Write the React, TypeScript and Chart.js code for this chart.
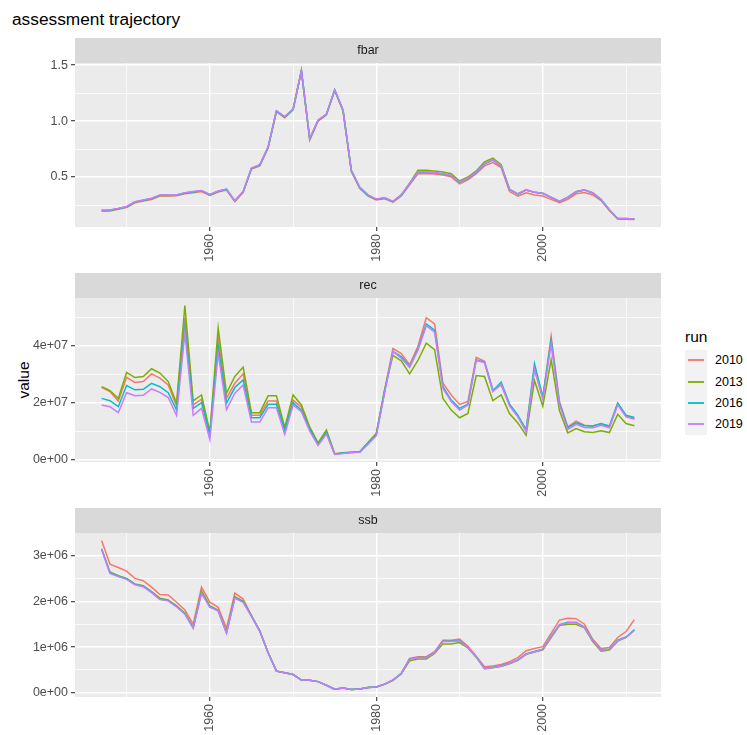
import React, { useEffect, useRef } from "react";
import { Chart, registerables } from "chart.js";

Chart.register(...registerables);

const FONT = '"Liberation Sans", Arial, Helvetica, sans-serif';

const years = [
  1947, 1948, 1949, 1950, 1951, 1952, 1953, 1954, 1955, 1956,
  1957, 1958, 1959, 1960, 1961, 1962, 1963, 1964, 1965, 1966,
  1967, 1968, 1969, 1970, 1971, 1972, 1973, 1974, 1975, 1976,
  1977, 1978, 1979, 1980, 1981, 1982, 1983, 1984, 1985, 1986,
  1987, 1988, 1989, 1990, 1991, 1992, 1993, 1994, 1995, 1996,
  1997, 1998, 1999, 2000, 2001, 2002, 2003, 2004, 2005, 2006,
  2007, 2008, 2009, 2010, 2011,
];

const runs = ["2010", "2013", "2016", "2019"];
const runColors = ["#F8766D", "#7CAE00", "#00BFC4", "#C77CFF"];

const xMajorTicks = [1960, 1980, 2000];
const xMinorTicks = [1950, 1970, 1990, 2010];

// ---- fbar ----
const fbar2010 = [
  0.195, 0.196, 0.212, 0.228, 0.27, 0.285, 0.3, 0.33, 0.33, 0.332,
  0.35, 0.36, 0.37, 0.335, 0.365, 0.383, 0.28, 0.362, 0.572, 0.6,
  0.76, 1.085, 1.03, 1.1, 1.45, 0.83, 1.0, 1.055, 1.275, 1.09,
  0.55, 0.4, 0.33, 0.295, 0.305, 0.275, 0.33, 0.43, 0.53, 0.532,
  0.528, 0.518, 0.502, 0.44, 0.475, 0.53, 0.6, 0.63, 0.585, 0.37,
  0.33, 0.36, 0.34, 0.33, 0.3, 0.27, 0.3, 0.35, 0.362, 0.34,
  0.29, 0.2, 0.125, 0.122, 0.12,
];
const fbar2013 = [
  0.2, 0.2, 0.216, 0.233, 0.276, 0.29, 0.305, 0.336, 0.336, 0.337,
  0.356, 0.366, 0.376, 0.34, 0.37, 0.39, 0.285, 0.366, 0.577, 0.606,
  0.765, 1.09, 1.035, 1.105, 1.45, 0.84, 1.005, 1.06, 1.278, 1.095,
  0.556, 0.405, 0.337, 0.3, 0.315, 0.28, 0.34, 0.445, 0.56, 0.56,
  0.555, 0.545, 0.53, 0.465, 0.5, 0.555, 0.635, 0.67, 0.61, 0.39,
  0.35, 0.385, 0.365, 0.355, 0.318, 0.282, 0.318, 0.368, 0.385, 0.358,
  0.298, 0.205, 0.128, 0.128, 0.124,
];
const fbar2016 = [
  0.202, 0.203, 0.218, 0.235, 0.278, 0.293, 0.308, 0.338, 0.338, 0.339,
  0.358, 0.368, 0.378, 0.343, 0.373, 0.391, 0.287, 0.368, 0.579, 0.608,
  0.768, 1.09, 1.038, 1.106, 1.452, 0.842, 1.008, 1.061, 1.279, 1.098,
  0.558, 0.408, 0.338, 0.301, 0.313, 0.28, 0.338, 0.438, 0.542, 0.543,
  0.538, 0.528, 0.512, 0.452, 0.487, 0.542, 0.617, 0.652, 0.597, 0.388,
  0.348, 0.383, 0.363, 0.353, 0.318, 0.281, 0.318, 0.368, 0.385, 0.358,
  0.298, 0.205, 0.129, 0.129, 0.124,
];
const fbar2019 = [
  0.204, 0.205, 0.22, 0.237, 0.28, 0.295, 0.31, 0.34, 0.34, 0.34,
  0.36, 0.37, 0.38, 0.345, 0.375, 0.393, 0.288, 0.37, 0.58, 0.61,
  0.77, 1.093, 1.04, 1.108, 1.453, 0.844, 1.01, 1.063, 1.28, 1.1,
  0.56, 0.41, 0.34, 0.303, 0.315, 0.282, 0.34, 0.44, 0.545, 0.545,
  0.54, 0.53, 0.515, 0.455, 0.49, 0.545, 0.62, 0.655, 0.6, 0.39,
  0.35, 0.385, 0.365, 0.355, 0.32, 0.283, 0.32, 0.37, 0.387, 0.36,
  0.3, 0.207, 0.13, 0.13, 0.125,
];

// ---- rec (millions) ----
const recUnit = 1e6;
const rec2010 = [
  25.4, 23.9, 20.6, 28.9, 27.1, 27.4, 30.1, 28.6, 26.2, 18.8,
  49.8, 19.2, 21.2, 9.2, 42.7, 21.5, 26.8, 30.1, 15.6, 15.6,
  20.6, 20.6, 10.6, 20.9, 18.4, 10.9, 5.6, 9.8, 2.0, 2.35,
  2.6, 2.7, 5.9, 9.2, 24.5, 39.0, 37.2, 33.3, 39.8, 49.8,
  47.6, 26.8, 22.7, 19.4, 20.4, 35.9, 34.5, 24.5, 26.2, 19.4,
  15.3, 10.6, 31.8, 21.5, 43.3, 20.4, 11.5, 13.5, 12.1, 11.8,
  12.5, 11.5, 19.8, 15.3, 14.5,
];
const rec2013 = [
  25.6, 24.2, 21.5, 30.6, 28.8, 29.2, 31.9, 30.4, 27.4, 19.8,
  54.1, 20.6, 22.7, 9.8, 46.2, 23.3, 29.2, 32.5, 16.5, 16.5,
  22.4, 22.4, 11.3, 22.7, 19.2, 11.5, 5.9, 10.4, 2.1, 2.4,
  2.6, 2.8, 6.0, 9.2, 24.5, 36.6, 34.7, 30.1, 34.8, 40.9,
  38.6, 21.5, 17.4, 14.7, 16.2, 29.5, 29.2, 20.7, 22.7, 16.2,
  12.9, 8.6, 27.8, 18.8, 35.1, 17.2, 9.4, 10.9, 9.8, 9.5,
  10.1, 9.5, 15.9, 12.7, 11.9,
];
const rec2016 = [
  21.5, 20.7, 18.6, 26.0, 24.5, 24.7, 26.8, 25.6, 23.5, 17.4,
  46.5, 18.0, 20.0, 8.6, 39.8, 19.8, 25.3, 28.0, 14.7, 14.7,
  19.4, 19.4, 10.4, 20.0, 17.4, 10.6, 5.3, 9.5, 1.9, 2.3,
  2.55, 2.7, 5.6, 8.8, 24.0, 38.0, 36.2, 32.7, 38.8, 47.6,
  45.4, 25.6, 20.9, 18.0, 19.5, 35.0, 34.2, 24.2, 27.2, 19.5,
  15.6, 10.4, 33.6, 22.1, 41.9, 19.8, 11.2, 12.9, 11.9, 11.8,
  12.7, 11.8, 19.8, 15.6, 14.8,
];
const rec2019 = [
  19.2, 18.6, 16.5, 23.5, 22.4, 22.6, 24.8, 23.6, 21.8, 15.5,
  44.5, 15.6, 18.0, 7.1, 37.4, 17.6, 23.3, 26.2, 13.2, 13.2,
  18.2, 18.2, 8.9, 19.2, 16.8, 10.0, 5.0, 9.0, 1.8, 2.2,
  2.5, 2.6, 5.4, 8.4, 23.5, 38.0, 35.6, 32.4, 38.4, 47.0,
  44.7, 25.0, 20.4, 17.4, 19.2, 34.8, 34.1, 23.9, 26.5, 18.9,
  15.0, 9.8, 31.8, 21.2, 40.4, 19.2, 10.6, 12.4, 11.3, 11.2,
  12.1, 11.2, 19.2, 15.0, 14.2,
];

// ---- ssb (millions) ----
const ssbUnit = 1e6;
const ssb2010 = [
  3.33, 2.81, 2.74, 2.66, 2.5, 2.45, 2.31, 2.15, 2.14, 1.98,
  1.81, 1.5, 2.31, 1.98, 1.87, 1.41, 2.18, 2.05, 1.69, 1.35,
  0.88, 0.475, 0.44, 0.4, 0.28, 0.275, 0.245, 0.165, 0.08, 0.105,
  0.072, 0.085, 0.118, 0.13, 0.19, 0.28, 0.425, 0.75, 0.79, 0.79,
  0.9, 1.15, 1.15, 1.175, 1.02, 0.8, 0.57, 0.585, 0.62, 0.68,
  0.77, 0.92, 0.97, 1.01, 1.3, 1.59, 1.63, 1.62, 1.5, 1.17,
  0.97, 0.99, 1.21, 1.34, 1.6,
];
const ssb2013 = [
  3.15, 2.64, 2.56, 2.5, 2.38, 2.34, 2.21, 2.07, 2.03, 1.9,
  1.74, 1.43, 2.23, 1.9, 1.81, 1.33, 2.1, 2.0, 1.68, 1.35,
  0.876, 0.474, 0.44, 0.4, 0.28, 0.275, 0.245, 0.165, 0.08, 0.105,
  0.072, 0.085, 0.118, 0.13, 0.188, 0.272, 0.415, 0.7, 0.737, 0.737,
  0.86, 1.07, 1.07, 1.1, 0.98, 0.78, 0.53, 0.55, 0.58, 0.635,
  0.71, 0.84, 0.89, 0.94, 1.21, 1.47, 1.5, 1.5, 1.42, 1.12,
  0.91, 0.934, 1.13, 1.21, 1.37,
];
const ssb2016 = [
  3.14, 2.62, 2.55, 2.49, 2.37, 2.33, 2.2, 2.05, 2.02, 1.89,
  1.73, 1.42, 2.19, 1.88, 1.8, 1.31, 2.08, 1.99, 1.68, 1.35,
  0.876, 0.474, 0.44, 0.4, 0.28, 0.275, 0.245, 0.165, 0.08, 0.105,
  0.072, 0.085, 0.118, 0.13, 0.19, 0.278, 0.425, 0.74, 0.77, 0.77,
  0.885, 1.125, 1.125, 1.145, 0.995, 0.79, 0.535, 0.56, 0.59, 0.645,
  0.72, 0.855, 0.905, 0.955, 1.24, 1.49, 1.54, 1.54, 1.44, 1.15,
  0.94, 0.955, 1.15, 1.22, 1.38,
];
const ssb2019 = [
  3.13, 2.61, 2.54, 2.48, 2.36, 2.32, 2.19, 2.04, 2.01, 1.88,
  1.72, 1.41, 2.18, 1.87, 1.79, 1.3, 2.07, 1.98, 1.67, 1.35,
  0.876, 0.474, 0.44, 0.4, 0.28, 0.275, 0.245, 0.165, 0.08, 0.105,
  0.072, 0.085, 0.118, 0.13, 0.19, 0.277, 0.423, 0.737, 0.766, 0.766,
  0.88, 1.12, 1.12, 1.14, 0.99, 0.79, 0.53, 0.555, 0.584, 0.64,
  0.715, 0.847, 0.9, 0.95, 1.23, 1.48, 1.53, 1.53, 1.43, 1.14,
  0.934, 0.95, 1.14, 1.21, 1.37,
];

// ---- y ticks ----
const fbarMajor = [0.5, 1.0, 1.5];
const fbarMinor = [0.25, 0.75, 1.25];
const fbarLabels = ["0.5", "1.0", "1.5"];
const recMajor = [0, 2e7, 4e7];
const recMinor = [1e7, 3e7, 5e7];
const recLabels = ["0e+00", "2e+07", "4e+07"];
const ssbMajor = [0, 1e6, 2e6, 3e6];
const ssbMinor = [5e5, 1.5e6, 2.5e6];
const ssbLabels = ["0e+00", "1e+06", "2e+06", "3e+06"];

type PanelDef = {
  name: string;
  series: number[][];
  unit: number;
  major: number[];
  minor: number[];
  labels: string[];
  top: number;
  axisH: number;
};

const STRIP_H = 25;
const AREA_H = 164;
const CANVAS_W = 668;
const Y_AXIS_W = 75;

const panels: PanelDef[] = [
  { name: "fbar", series: [fbar2010, fbar2013, fbar2016, fbar2019], unit: 1, major: fbarMajor, minor: fbarMinor, labels: fbarLabels, top: 38, axisH: 40 },
  { name: "rec", series: [rec2010, rec2013, rec2016, rec2019], unit: recUnit, major: recMajor, minor: recMinor, labels: recLabels, top: 273, axisH: 40 },
  { name: "ssb", series: [ssb2010, ssb2013, ssb2016, ssb2019], unit: ssbUnit, major: ssbMajor, minor: ssbMinor, labels: ssbLabels, top: 508, axisH: 38 },
];

function Panel({ def }: { def: PanelDef }) {
  const ref = useRef<HTMLCanvasElement | null>(null);
  const height = STRIP_H + AREA_H + def.axisH;

  useEffect(() => {
    const canvas = ref.current;
    if (!canvas) return;
    const x0 = years[0];
    const x1 = years[years.length - 1];
    const xPad = (x1 - x0) * 0.05;
    const all = def.series.flat().map((v) => v * def.unit);
    const lo = Math.min(...all);
    const hi = Math.max(...all);
    const yPad = (hi - lo) * 0.05;

    const xAll = [...xMajorTicks, ...xMinorTicks].sort((a, b) => a - b);
    const yAll = [...def.major, ...def.minor].sort((a, b) => a - b);

    const panelPlugin = {
      id: "panelBg_" + def.name,
      beforeDraw(chart: any) {
        const { ctx, chartArea } = chart;
        ctx.save();
        ctx.fillStyle = "#EBEBEB";
        ctx.fillRect(chartArea.left, chartArea.top, chartArea.right - chartArea.left, chartArea.bottom - chartArea.top);
        ctx.fillStyle = "#D9D9D9";
        ctx.fillRect(chartArea.left, chartArea.top - STRIP_H, chartArea.right - chartArea.left, STRIP_H);
        ctx.fillStyle = "#1A1A1A";
        ctx.font = "12.5px " + FONT;
        ctx.textAlign = "center";
        ctx.textBaseline = "middle";
        ctx.fillText(def.name, (chartArea.left + chartArea.right) / 2, chartArea.top - STRIP_H / 2 + 0.5);
        ctx.restore();
      },
    };

    const chart = new Chart(canvas, {
      type: "line",
      data: {
        datasets: runs.map((r, i) => ({
          label: r,
          data: years.map((yr, j) => ({ x: yr, y: def.series[i][j] * def.unit })),
          borderColor: runColors[i],
          backgroundColor: runColors[i],
          borderWidth: 1.5,
          pointRadius: 0,
          tension: 0,
          fill: false,
          order: runs.length - 1 - i,
        })),
      },
      options: {
        animation: false,
        responsive: false,
        maintainAspectRatio: false,
        events: [],
        layout: { padding: { top: STRIP_H, right: CANVAS_W - 661, left: 0, bottom: 0 } },
        plugins: { legend: { display: false }, tooltip: { enabled: false } },
        scales: {
          x: {
            type: "linear",
            min: x0 - xPad,
            max: x1 + xPad,
            afterBuildTicks: (s: any) => {
              s.ticks = xAll.map((v) => ({ value: v }));
            },
            afterFit: (s: any) => {
              s.height = def.axisH;
            },
            ticks: {
              autoSkip: false,
              maxRotation: 90,
              minRotation: 90,
              padding: 3,
              color: "#4D4D4D",
              font: { family: FONT, size: 12.5 },
              callback: (v: any) => (xMajorTicks.includes(v) ? String(v) : ""),
            },
            grid: {
              color: "#FFFFFF",
              lineWidth: (c: any) => (c.tick && xMajorTicks.includes(c.tick.value) ? 1.4 : 0.7),
              tickLength: 4,
              tickWidth: 1.1,
              tickColor: (c: any) => (c.tick && xMajorTicks.includes(c.tick.value) ? "#333333" : "rgba(0,0,0,0)"),
            },
            border: { display: false },
          },
          y: {
            type: "linear",
            min: lo - yPad,
            max: hi + yPad,
            afterBuildTicks: (s: any) => {
              s.ticks = yAll.map((v) => ({ value: v }));
            },
            afterFit: (s: any) => {
              s.width = Y_AXIS_W;
            },
            ticks: {
              autoSkip: false,
              padding: 3,
              color: "#4D4D4D",
              font: { family: FONT, size: 12.5 },
              callback: (v: any) => {
                const k = def.major.indexOf(v);
                return k >= 0 ? def.labels[k] : "";
              },
            },
            grid: {
              color: "#FFFFFF",
              lineWidth: (c: any) => (c.tick && def.major.includes(c.tick.value) ? 1.4 : 0.7),
              tickLength: 4,
              tickWidth: 1.1,
              tickColor: (c: any) => (c.tick && def.major.includes(c.tick.value) ? "#333333" : "rgba(0,0,0,0)"),
            },
            border: { display: false },
          },
        },
      },
      plugins: [panelPlugin],
    } as any);
    return () => chart.destroy();
  }, [def]);

  return (
    <canvas
      ref={ref}
      width={CANVAS_W}
      height={height}
      style={{ position: "absolute", left: 0, top: def.top, width: CANVAS_W, height }}
    />
  );
}

export default function App() {
  const keyTop = 350;
  const keyH = 21.3;
  return (
    <div
      style={{
        position: "absolute",
        left: 0,
        top: 0,
        width: 747,
        height: 735,
        overflow: "hidden",
        background: "#FFFFFF",
        fontFamily: FONT,
      }}
    >
      <div style={{ position: "absolute", left: 12, top: 8, fontSize: 17.3, lineHeight: "22px", color: "#000", whiteSpace: "nowrap" }}>
        assessment trajectory
      </div>
      <div
        style={{
          position: "absolute",
          left: 24,
          top: 380,
          transform: "translate(-50%, -50%) rotate(-90deg)",
          fontSize: 15.5,
          color: "#000",
          whiteSpace: "nowrap",
        }}
      >
        value
      </div>
      {panels.map((p) => (
        <Panel key={p.name} def={p} />
      ))}
      <div style={{ position: "absolute", left: 685, top: 329, fontSize: 15.5, lineHeight: "16px", color: "#000" }}>run</div>
      {runs.map((r, i) => {
        const rowTop = Math.round(keyTop + i * keyH);
        const rowBottom = Math.round(keyTop + (i + 1) * keyH);
        const h = rowBottom - rowTop;
        return (
          <React.Fragment key={r}>
            <div
              style={{
                position: "absolute",
                left: 685,
                top: rowTop,
                width: 22,
                height: h,
                background: "#F2F2F2",
              }}
            />
            <div
              style={{
                position: "absolute",
                left: 688,
                top: rowTop + Math.floor(h / 2) - 1,
                width: 16,
                height: 2,
                background: runColors[i],
                opacity: 0.9,
              }}
            />
            <div
              style={{
                position: "absolute",
                left: 715,
                top: rowTop,
                height: h,
                lineHeight: h + "px",
                fontSize: 12.5,
                color: "#000",
              }}
            >
              {r}
            </div>
          </React.Fragment>
        );
      })}
    </div>
  );
}
